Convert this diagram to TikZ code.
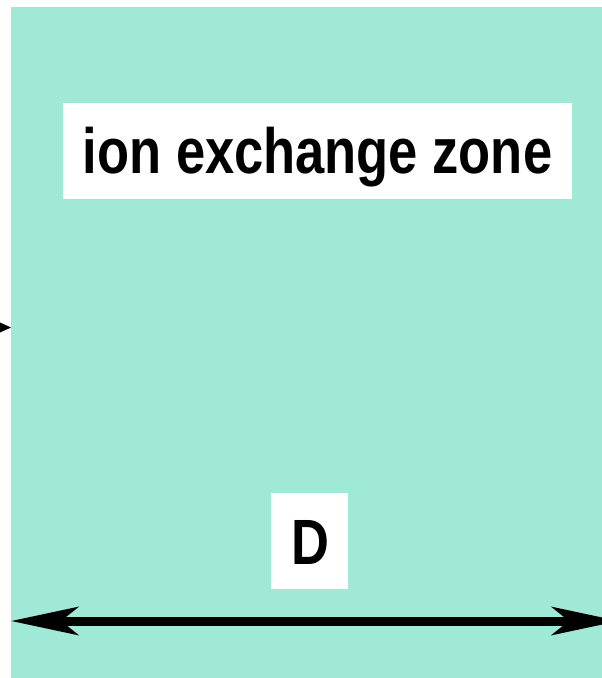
\documentclass[tikz,border=0pt]{standalone}
\usepackage{fontspec}
\setmainfont{Liberation Sans}[FakeStretch=0.82]
\usetikzlibrary{arrows.meta}
\definecolor{zonefill}{HTML}{A0E9D7}
\begin{document}
\begin{tikzpicture}[x=1pt,y=-1pt,
  labelbox/.style={fill=white,inner sep=0pt},
  labeltext/.style={font=\fontsize{64}{64}\selectfont\bfseries,inner sep=0pt,anchor=base},
  dimline/.style={line width=9pt,{Stealth[length=67pt,width=28pt,inset=17pt]}-{Stealth[length=67pt,width=28pt,inset=17pt]}}]
  \useasboundingbox (0,0) rectangle (602,678);
  \clip (0,0) rectangle (602,678);
  % column body
  \fill[zonefill] (11,7) rectangle (620,690);
  % label panels
  \fill[white] (63,103) rectangle (572,199);
  \node[labeltext] (zone) at (317.5,173) {ion exchange zone};
  \fill[white] (271,493) rectangle (348,589);
  \node[labeltext] (dlabel) at (310,564) {D};
  % inlet arrow tip at the left wall
  \fill[black] (0,322.5) -- (11,327.5) -- (0,332.5) -- cycle;
  % diameter dimension
  \coordinate (dleft) at (11,621);
  \coordinate (dright) at (619,621);
  \draw[dimline] (dleft) -- (dright);
\end{tikzpicture}
\end{document}
